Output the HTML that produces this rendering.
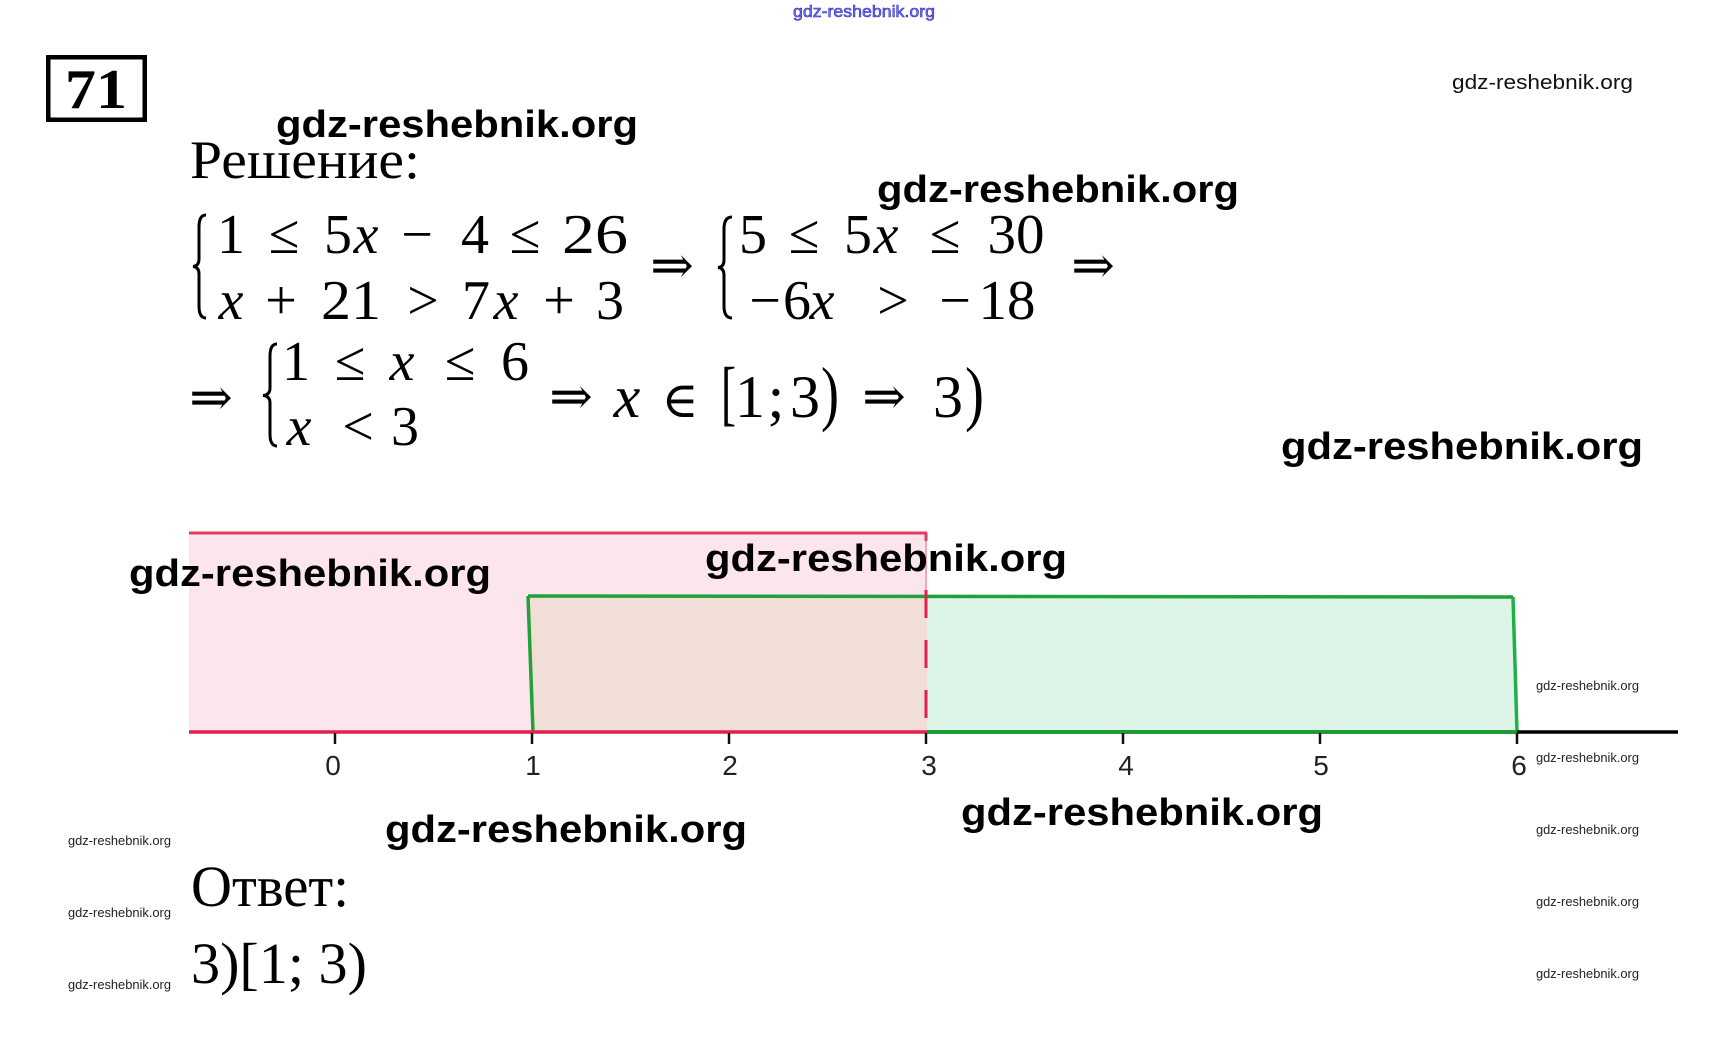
<!DOCTYPE html>
<html>
<head>
<meta charset="utf-8">
<style>
html,body{margin:0;padding:0;background:#fff;}
svg{display:block;}
</style>
</head>
<body>
<svg width="1729" height="1050" viewBox="0 0 1729 1050" xmlns="http://www.w3.org/2000/svg">
<rect x="0" y="0" width="1729" height="1050" fill="#ffffff"/>

<!-- Number line region -->
<rect x="189" y="532" width="738" height="200" fill="#fde5ed"/>
<polygon points="528,596 927,596 927,732 533,732" fill="#f1ded6"/>
<polygon points="927,596 1513,597 1517,732 927,732" fill="#dcf5e6"/>

<!-- green borders -->
<line x1="528" y1="596" x2="1513" y2="597" stroke="#23a03a" stroke-width="3.5"/>
<line x1="528" y1="596" x2="533" y2="732" stroke="#23a03a" stroke-width="3.5"/>
<line x1="1513" y1="597" x2="1517" y2="732" stroke="#1fb04a" stroke-width="3.5"/>
<line x1="927" y1="732" x2="1517" y2="732" stroke="#1f9a36" stroke-width="4"/>

<!-- red borders -->
<line x1="189" y1="533" x2="927" y2="533" stroke="#e33a60" stroke-width="3"/>
<line x1="189" y1="732" x2="927" y2="732" stroke="#e0204f" stroke-width="3.5"/>
<line x1="926" y1="533" x2="926" y2="590" stroke="#f3a6ba" stroke-width="2"/>
<line x1="926" y1="533" x2="926" y2="541" stroke="#e33a60" stroke-width="3"/>
<line x1="926" y1="590" x2="926" y2="732" stroke="#e0204f" stroke-width="3" stroke-dasharray="28 22"/>

<!-- axis -->
<line x1="1517" y1="732" x2="1678" y2="732" stroke="#000" stroke-width="3.5"/>
<g stroke="#111" stroke-width="2.5">
<line x1="335" y1="733" x2="335" y2="744"/>
<line x1="532" y1="733" x2="532" y2="744"/>
<line x1="729" y1="733" x2="729" y2="744"/>
<line x1="926" y1="733" x2="926" y2="744"/>
<line x1="1123" y1="733" x2="1123" y2="744"/>
<line x1="1320" y1="733" x2="1320" y2="744"/>
<line x1="1517" y1="733" x2="1517" y2="744"/>
</g>
<g font-family="'Liberation Sans', sans-serif" font-size="28" fill="#222" text-anchor="middle">
<text x="333" y="775">0</text>
<text x="533" y="775">1</text>
<text x="730" y="775">2</text>
<text x="929" y="775">3</text>
<text x="1126" y="775">4</text>
<text x="1321" y="775">5</text>
<text x="1519" y="775">6</text>
</g>

<!-- Box 71 -->
<rect x="48.25" y="57.25" width="96.5" height="62.5" fill="none" stroke="#000" stroke-width="4.5"/>
<text x="65" y="108" font-family="'Liberation Serif', serif" font-weight="bold" font-size="56" textLength="62" lengthAdjust="spacingAndGlyphs">71</text>

<!-- Headings -->
<text x="190" y="178" font-family="'Liberation Serif', serif" font-size="54" textLength="230" lengthAdjust="spacingAndGlyphs">Решение:</text>
<text x="191" y="906" font-family="'Liberation Serif', serif" font-size="58" textLength="158" lengthAdjust="spacingAndGlyphs">Ответ:</text>
<text x="191" y="983" font-family="'Liberation Serif', serif" font-size="58" textLength="176" lengthAdjust="spacingAndGlyphs">3)[1; 3)</text>

<!-- Braces -->
<g fill="none" stroke="#000" stroke-width="3">
<path d="M206 215 Q199 215 199 227 L199 259 Q199 266 193 266.5 Q199 267 199 274 L199 306 Q199 318 206 318"/>
<path d="M732 217 Q724 217 724 229 L724 260 Q724 267 718 267.5 Q724 268 724 275 L724 306 Q724 318 732 318"/>
<path d="M277 344 Q270 344 270 356 L270 388 Q270 395 263 395.5 Q270 396 270 403 L270 434 Q270 446 277 446"/>
</g>

<!-- Math -->
<g font-family="'Liberation Serif', 'DejaVu Serif', serif" font-size="56" fill="#000" text-anchor="middle">
<!-- line 1 -->
<text x="231" y="253">1</text>
<text x="284" y="253">≤</text>
<text x="338" y="253">5</text>
<text x="366" y="253" font-style="italic">x</text>
<text x="417" y="253">−</text>
<text x="475" y="253">4</text>
<text x="525" y="253">≤</text>
<text x="595" y="253" textLength="66" lengthAdjust="spacingAndGlyphs">26</text>
<!-- line 2 -->
<text x="231" y="319" font-style="italic">x</text>
<text x="281" y="319">+</text>
<text x="351" y="319" textLength="60" lengthAdjust="spacingAndGlyphs">21</text>
<text x="423" y="319">&gt;</text>
<text x="476" y="319">7</text>
<text x="506" y="319" font-style="italic">x</text>
<text x="559" y="319">+</text>
<text x="610" y="319">3</text>
<!-- system 2 -->
<text x="753" y="253">5</text>
<text x="804" y="253">≤</text>
<text x="858" y="253">5</text>
<text x="886" y="253" font-style="italic">x</text>
<text x="945" y="253">≤</text>
<text x="1016" y="253" textLength="57" lengthAdjust="spacingAndGlyphs">30</text>
<text x="765" y="319">−</text>
<text x="797" y="319">6</text>
<text x="822" y="319" font-style="italic">x</text>
<text x="893" y="319">&gt;</text>
<text x="955" y="319">−</text>
<text x="1007" y="319" textLength="57" lengthAdjust="spacingAndGlyphs">18</text>
<!-- line 3 system -->
<text x="296" y="380">1</text>
<text x="350" y="380">≤</text>
<text x="402" y="380" font-style="italic">x</text>
<text x="460" y="380">≤</text>
<text x="515" y="380">6</text>
<text x="299" y="445" font-style="italic">x</text>
<text x="358" y="445">&lt;</text>
<text x="405" y="445">3</text>
</g>

<!-- arrows -->
<g font-family="'DejaVu Serif', 'Liberation Serif', serif" font-size="52" fill="#000" text-anchor="middle">
<text x="672" y="283">⇒</text>
<text x="1093" y="283">⇒</text>
<text x="211" y="415">⇒</text>
<text x="571" y="414">⇒</text>
<text x="884" y="414">⇒</text>
</g>

<!-- line 3 continuation -->
<g font-family="'Liberation Serif', 'DejaVu Serif', serif" font-size="60" fill="#000" text-anchor="middle">
<text x="627" y="417" font-style="italic">x</text>
<text x="680" y="417" font-family="'DejaVu Serif', serif" font-size="50">∈</text>
<text x="750" y="417">1</text>
<text x="776" y="417">;</text>
<text x="805" y="417">3</text>
<text x="948" y="417">3</text>
</g>
<g font-family="'Liberation Serif', serif" font-size="72" fill="#000">
<text x="721" y="417" textLength="15" lengthAdjust="spacingAndGlyphs">[</text>
<text x="821" y="417" textLength="18" lengthAdjust="spacingAndGlyphs">)</text>
<text x="965" y="417" textLength="19" lengthAdjust="spacingAndGlyphs">)</text>
</g>

<!-- Watermarks large -->
<g font-family="'Liberation Sans', sans-serif" font-weight="bold" font-size="38" fill="#000">
<text x="276" y="137" textLength="362" lengthAdjust="spacingAndGlyphs">gdz-reshebnik.org</text>
<text x="877" y="202" textLength="362" lengthAdjust="spacingAndGlyphs">gdz-reshebnik.org</text>
<text x="1281" y="459" textLength="362" lengthAdjust="spacingAndGlyphs">gdz-reshebnik.org</text>
<text x="129" y="586" textLength="362" lengthAdjust="spacingAndGlyphs">gdz-reshebnik.org</text>
<text x="705" y="571" textLength="362" lengthAdjust="spacingAndGlyphs">gdz-reshebnik.org</text>
<text x="385" y="842" textLength="362" lengthAdjust="spacingAndGlyphs">gdz-reshebnik.org</text>
<text x="961" y="825" textLength="362" lengthAdjust="spacingAndGlyphs">gdz-reshebnik.org</text>
</g>

<!-- Watermarks small -->
<g font-family="'Liberation Sans', sans-serif" font-size="13" fill="#222">
<text x="1536" y="690" textLength="103" lengthAdjust="spacingAndGlyphs">gdz-reshebnik.org</text>
<text x="1536" y="762" textLength="103" lengthAdjust="spacingAndGlyphs">gdz-reshebnik.org</text>
<text x="1536" y="834" textLength="103" lengthAdjust="spacingAndGlyphs">gdz-reshebnik.org</text>
<text x="1536" y="906" textLength="103" lengthAdjust="spacingAndGlyphs">gdz-reshebnik.org</text>
<text x="1536" y="978" textLength="103" lengthAdjust="spacingAndGlyphs">gdz-reshebnik.org</text>
<text x="68" y="845" textLength="103" lengthAdjust="spacingAndGlyphs">gdz-reshebnik.org</text>
<text x="68" y="917" textLength="103" lengthAdjust="spacingAndGlyphs">gdz-reshebnik.org</text>
<text x="68" y="989" textLength="103" lengthAdjust="spacingAndGlyphs">gdz-reshebnik.org</text>
</g>
<text x="1452" y="89" font-family="'Liberation Sans', sans-serif" font-size="20" fill="#111" textLength="181" lengthAdjust="spacingAndGlyphs">gdz-reshebnik.org</text>
<text x="793" y="17" font-family="'Liberation Sans', sans-serif" font-size="17" fill="#7a7ae6" stroke="#2b2bc8" stroke-width="0.6" textLength="142" lengthAdjust="spacingAndGlyphs">gdz-reshebnik.org</text>
</svg>
</body>
</html>
